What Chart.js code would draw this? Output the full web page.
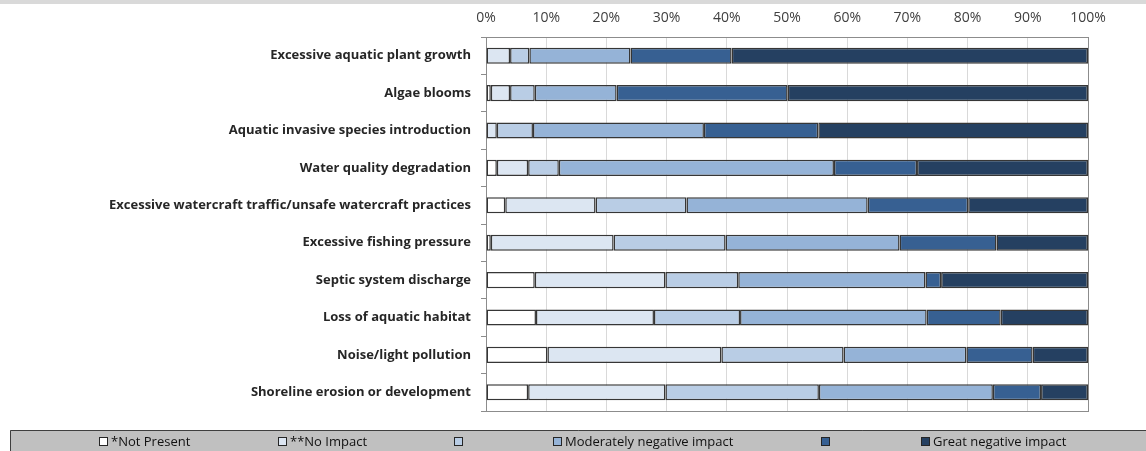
<!DOCTYPE html>
<html>
<head>
<meta charset="utf-8">
<script src="https://cdn.jsdelivr.net/npm/chart.js@4"></script>
<style>
  html, body { margin: 0; padding: 0; background: #fff; }
  #wrap { width: 1146px; height: 451px; position: relative; }
</style>
</head>
<body>
<div id="wrap"><canvas id="impactChart"></canvas></div>
<script>
// Categories, top to bottom
const categories = [
  'Excessive aquatic plant growth',
  'Algae blooms',
  'Aquatic invasive species introduction',
  'Water quality degradation',
  'Excessive watercraft traffic/unsafe watercraft practices',
  'Excessive fishing pressure',
  'Septic system discharge',
  'Loss of aquatic habitat',
  'Noise/light pollution',
  'Shoreline erosion or development'
];

// Share of responses (%) per impact level
const notPresent  = [0, 0.8, 0, 1.8, 3.2, 0.8, 8.1, 8.3, 10.2, 7.0];
const noImpact    = [4.0, 3.2, 1.8, 5.2, 15.0, 20.4, 21.7, 19.6, 28.9, 22.8];
const slight      = [3.2, 4.1, 6.0, 5.1, 15.1, 18.6, 12.1, 14.3, 20.3, 25.5];
const moderate    = [16.8, 13.6, 28.4, 45.7, 30.1, 28.9, 31.1, 31.0, 20.4, 28.9];
const significant = [16.8, 28.4, 19.0, 13.8, 16.7, 16.1, 2.6, 12.3, 11.0, 8.0];
const great       = [59.2, 49.9, 44.8, 28.4, 19.9, 15.2, 24.4, 14.5, 9.2, 7.8];

const seriesLabels = ['*Not Present', '**No Impact', '', 'Moderately negative impact', '', 'Great negative impact'];
const seriesColors = ['#ffffff', '#dce6f2', '#b9cde5', '#95b3d7', '#376092', '#254061'];
const xTicks = [0, 10, 20, 30, 40, 50, 60, 70, 80, 90, 100];

// legend entry x positions (box left edge)
const legendPos = [99, 278, 454, 553, 821, 921];

const seriesData = [notPresent, noImpact, slight, moderate, significant, great];

/**
 * Gray strip on top, plot frame and the boxed legend at the bottom
 */
const framePlugin = {
  id: 'frame',
  beforeDraw: (chart) => {
    const c = chart.ctx;
    c.save();
    c.fillStyle = '#d9d9d9';
    c.fillRect(0, 0, chart.width, 4);
    c.restore();
  },
  beforeDatasetsDraw: (chart) => {
    const a = chart.chartArea;
    const c = chart.ctx;
    c.save();
    c.strokeStyle = '#8c8c8c';
    c.lineWidth = 1;
    c.strokeRect(Math.round(a.left) + 0.5, Math.round(a.top) + 0.5,
      Math.round(a.right - a.left), Math.round(a.bottom - a.top));
    c.restore();
  },
  afterDraw: (chart) => {
    const c = chart.ctx;
    const top = 430;
    c.save();
    c.fillStyle = '#c0c0c0';
    c.fillRect(10, top, chart.width - 10, chart.height - top);
    c.strokeStyle = '#3f3f3f';
    c.lineWidth = 1;
    c.beginPath();
    c.moveTo(10.5, chart.height);
    c.lineTo(10.5, top + 0.5);
    c.lineTo(chart.width, top + 0.5);
    c.stroke();

    c.font = '13px "Open Sans", sans-serif';
    c.textBaseline = 'middle';
    chart.data.datasets.forEach((ds, i) => {
      const x = legendPos[i];
      const y = 442;
      c.fillStyle = ds.backgroundColor;
      c.fillRect(x, y - 5, 9, 9);
      c.strokeStyle = '#262626';
      c.strokeRect(x + 0.5, y - 4.5, 8, 8);
      c.fillStyle = '#111';
      c.fillText(ds.label, x + 12, y);
    });
    c.restore();
  }
};

const buildChart = () => {
  const ctx = document.getElementById('impactChart').getContext('2d');

  new Chart(ctx, {
    type: 'bar',
    data: {
      labels: categories,
      datasets: seriesData.map((vals, i) => ({
        label: seriesLabels[i],
        data: vals,
        backgroundColor: seriesColors[i],
        borderColor: '#363636',
        // no outline for empty segments
        borderWidth: (c) => (c.raw ? 1.5 : 0),
        borderSkipped: false,
        inflateAmount: 0,
        barPercentage: 1,
        categoryPercentage: 0.43
      }))
    },
    options: {
      indexAxis: 'y',
      responsive: true,
      maintainAspectRatio: false,
      animation: false,
      layout: {
        padding: { left: 0, right: 58, top: 0, bottom: 40 }
      },
      plugins: {
        legend: { display: false },
        tooltip: { enabled: false }
      },
      scales: {
        x: {
          position: 'top',
          stacked: true,
          min: 0,
          max: 100,
          afterBuildTicks: (scale) => {
            scale.ticks = xTicks.map(v => ({ value: v }));
          },
          afterFit: (scale) => { scale.height = 37; },
          ticks: {
            padding: 11,
            color: '#404040',
            font: { family: '"Open Sans", sans-serif', size: 14 },
            callback: (v) => v + '%'
          },
          grid: {
            color: '#d9d9d9',
            drawTicks: false
          },
          border: { display: true, color: '#8c8c8c' }
        },
        y: {
          stacked: true,
          afterFit: (scale) => { scale.width = 486; },
          ticks: {
            padding: 10,
            color: '#262626',
            font: { family: '"Open Sans", sans-serif', size: 13, weight: 'bold' }
          },
          grid: {
            offset: true,
            drawOnChartArea: false,
            tickLength: 5,
            color: '#8c8c8c'
          },
          border: { display: true, color: '#8c8c8c' }
        }
      }
    },
    plugins: [framePlugin]
  });
};

window.onload = buildChart;
</script>
</body>
</html>
